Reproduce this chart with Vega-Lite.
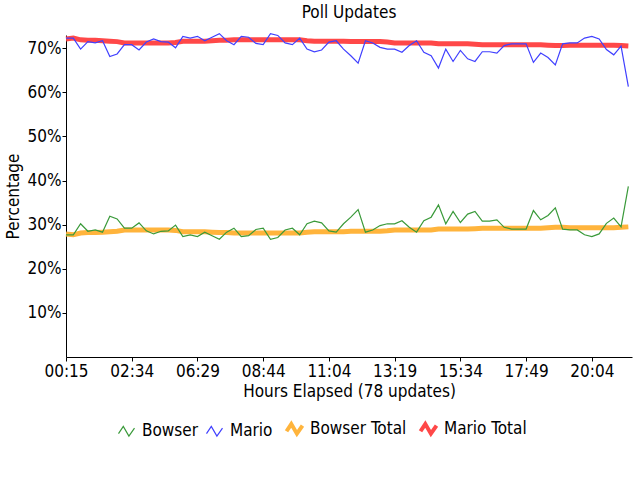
{
  "$schema": "https://vega.github.io/schema/vega-lite/v6.json",
  "width": 566,
  "height": 322,
  "autosize": {"type": "none"},
  "padding": {"left": 66, "top": 35, "right": 8, "bottom": 123},
  "background": "white",
  "title": {"text": "Poll Updates", "font": "DejaVu Sans Condensed, Liberation Sans, sans-serif", "fontSize": 17, "fontWeight": "normal", "color": "black", "offset": 6, "anchor": "middle"},
  "config": {
    "view": {"stroke": null},
    "axis": {"labelFont": "DejaVu Sans Condensed, Liberation Sans, sans-serif", "titleFont": "DejaVu Sans Condensed, Liberation Sans, sans-serif", "labelFontSize": 17, "titleFontSize": 17, "titleFontWeight": "normal", "domainColor": "black", "tickColor": "black", "labelColor": "black", "titleColor": "black", "grid": false},
    "legend": {"labelFont": "DejaVu Sans Condensed, Liberation Sans, sans-serif", "labelFontSize": 17, "labelColor": "black"}
  },
  "data": {"values": [
    {"update":0,"series":"Mario","share":0.723},{"update":1,"series":"Mario","share":0.723},{"update":2,"series":"Mario","share":0.698},{"update":3,"series":"Mario","share":0.715},{"update":4,"series":"Mario","share":0.712},{"update":5,"series":"Mario","share":0.717},{"update":6,"series":"Mario","share":0.681},{"update":7,"series":"Mario","share":0.687},{"update":8,"series":"Mario","share":0.708},{"update":9,"series":"Mario","share":0.708},
    {"update":10,"series":"Mario","share":0.696},{"update":11,"series":"Mario","share":0.714},{"update":12,"series":"Mario","share":0.721},{"update":13,"series":"Mario","share":0.715},{"update":14,"series":"Mario","share":0.714},{"update":15,"series":"Mario","share":0.701},{"update":16,"series":"Mario","share":0.727},{"update":17,"series":"Mario","share":0.723},{"update":18,"series":"Mario","share":0.727},{"update":19,"series":"Mario","share":0.717},
    {"update":20,"series":"Mario","share":0.725},{"update":21,"series":"Mario","share":0.733},{"update":22,"series":"Mario","share":0.717},{"update":23,"series":"Mario","share":0.708},{"update":24,"series":"Mario","share":0.727},{"update":25,"series":"Mario","share":0.725},{"update":26,"series":"Mario","share":0.711},{"update":27,"series":"Mario","share":0.708},{"update":28,"series":"Mario","share":0.733},{"update":29,"series":"Mario","share":0.729},
    {"update":30,"series":"Mario","share":0.712},{"update":31,"series":"Mario","share":0.708},{"update":32,"series":"Mario","share":0.723},{"update":33,"series":"Mario","share":0.698},{"update":34,"series":"Mario","share":0.692},{"update":35,"series":"Mario","share":0.696},{"update":36,"series":"Mario","share":0.714},{"update":37,"series":"Mario","share":0.717},{"update":38,"series":"Mario","share":0.698},{"update":39,"series":"Mario","share":0.683},
    {"update":40,"series":"Mario","share":0.666},{"update":41,"series":"Mario","share":0.717},{"update":42,"series":"Mario","share":0.712},{"update":43,"series":"Mario","share":0.702},{"update":44,"series":"Mario","share":0.698},{"update":45,"series":"Mario","share":0.698},{"update":46,"series":"Mario","share":0.691},{"update":47,"series":"Mario","share":0.706},{"update":48,"series":"Mario","share":0.717},{"update":49,"series":"Mario","share":0.691},
    {"update":50,"series":"Mario","share":0.683},{"update":51,"series":"Mario","share":0.655},{"update":52,"series":"Mario","share":0.698},{"update":53,"series":"Mario","share":0.670},{"update":54,"series":"Mario","share":0.695},{"update":55,"series":"Mario","share":0.676},{"update":56,"series":"Mario","share":0.670},{"update":57,"series":"Mario","share":0.692},{"update":58,"series":"Mario","share":0.692},{"update":59,"series":"Mario","share":0.689},
    {"update":60,"series":"Mario","share":0.706},{"update":61,"series":"Mario","share":0.710},{"update":62,"series":"Mario","share":0.710},{"update":63,"series":"Mario","share":0.710},{"update":64,"series":"Mario","share":0.668},{"update":65,"series":"Mario","share":0.689},{"update":66,"series":"Mario","share":0.679},{"update":67,"series":"Mario","share":0.662},{"update":68,"series":"Mario","share":0.710},{"update":69,"series":"Mario","share":0.712},
    {"update":70,"series":"Mario","share":0.712},{"update":71,"series":"Mario","share":0.723},{"update":72,"series":"Mario","share":0.727},{"update":73,"series":"Mario","share":0.721},{"update":74,"series":"Mario","share":0.697},{"update":75,"series":"Mario","share":0.685},{"update":76,"series":"Mario","share":0.705},{"update":77,"series":"Mario","share":0.613},
    {"update":0,"series":"Bowser","share":0.277},{"update":1,"series":"Bowser","share":0.277},{"update":2,"series":"Bowser","share":0.302},{"update":3,"series":"Bowser","share":0.285},{"update":4,"series":"Bowser","share":0.288},{"update":5,"series":"Bowser","share":0.283},{"update":6,"series":"Bowser","share":0.319},{"update":7,"series":"Bowser","share":0.313},{"update":8,"series":"Bowser","share":0.292},{"update":9,"series":"Bowser","share":0.292},
    {"update":10,"series":"Bowser","share":0.304},{"update":11,"series":"Bowser","share":0.286},{"update":12,"series":"Bowser","share":0.279},{"update":13,"series":"Bowser","share":0.285},{"update":14,"series":"Bowser","share":0.286},{"update":15,"series":"Bowser","share":0.299},{"update":16,"series":"Bowser","share":0.273},{"update":17,"series":"Bowser","share":0.277},{"update":18,"series":"Bowser","share":0.273},{"update":19,"series":"Bowser","share":0.283},
    {"update":20,"series":"Bowser","share":0.275},{"update":21,"series":"Bowser","share":0.267},{"update":22,"series":"Bowser","share":0.283},{"update":23,"series":"Bowser","share":0.292},{"update":24,"series":"Bowser","share":0.273},{"update":25,"series":"Bowser","share":0.275},{"update":26,"series":"Bowser","share":0.289},{"update":27,"series":"Bowser","share":0.292},{"update":28,"series":"Bowser","share":0.267},{"update":29,"series":"Bowser","share":0.271},
    {"update":30,"series":"Bowser","share":0.288},{"update":31,"series":"Bowser","share":0.292},{"update":32,"series":"Bowser","share":0.277},{"update":33,"series":"Bowser","share":0.302},{"update":34,"series":"Bowser","share":0.308},{"update":35,"series":"Bowser","share":0.304},{"update":36,"series":"Bowser","share":0.286},{"update":37,"series":"Bowser","share":0.283},{"update":38,"series":"Bowser","share":0.302},{"update":39,"series":"Bowser","share":0.317},
    {"update":40,"series":"Bowser","share":0.334},{"update":41,"series":"Bowser","share":0.283},{"update":42,"series":"Bowser","share":0.288},{"update":43,"series":"Bowser","share":0.298},{"update":44,"series":"Bowser","share":0.302},{"update":45,"series":"Bowser","share":0.302},{"update":46,"series":"Bowser","share":0.309},{"update":47,"series":"Bowser","share":0.294},{"update":48,"series":"Bowser","share":0.283},{"update":49,"series":"Bowser","share":0.309},
    {"update":50,"series":"Bowser","share":0.317},{"update":51,"series":"Bowser","share":0.345},{"update":52,"series":"Bowser","share":0.302},{"update":53,"series":"Bowser","share":0.330},{"update":54,"series":"Bowser","share":0.305},{"update":55,"series":"Bowser","share":0.324},{"update":56,"series":"Bowser","share":0.330},{"update":57,"series":"Bowser","share":0.308},{"update":58,"series":"Bowser","share":0.308},{"update":59,"series":"Bowser","share":0.311},
    {"update":60,"series":"Bowser","share":0.294},{"update":61,"series":"Bowser","share":0.290},{"update":62,"series":"Bowser","share":0.290},{"update":63,"series":"Bowser","share":0.290},{"update":64,"series":"Bowser","share":0.332},{"update":65,"series":"Bowser","share":0.311},{"update":66,"series":"Bowser","share":0.321},{"update":67,"series":"Bowser","share":0.338},{"update":68,"series":"Bowser","share":0.290},{"update":69,"series":"Bowser","share":0.288},
    {"update":70,"series":"Bowser","share":0.288},{"update":71,"series":"Bowser","share":0.277},{"update":72,"series":"Bowser","share":0.273},{"update":73,"series":"Bowser","share":0.279},{"update":74,"series":"Bowser","share":0.303},{"update":75,"series":"Bowser","share":0.315},{"update":76,"series":"Bowser","share":0.295},{"update":77,"series":"Bowser","share":0.387},
    {"update":0,"series":"Mario Total","share":0.721},{"update":1,"series":"Mario Total","share":0.723},{"update":2,"series":"Mario Total","share":0.719},{"update":3,"series":"Mario Total","share":0.718},{"update":4,"series":"Mario Total","share":0.718},{"update":5,"series":"Mario Total","share":0.717},{"update":6,"series":"Mario Total","share":0.716},{"update":7,"series":"Mario Total","share":0.715},{"update":8,"series":"Mario Total","share":0.712},{"update":9,"series":"Mario Total","share":0.712},
    {"update":10,"series":"Mario Total","share":0.712},{"update":11,"series":"Mario Total","share":0.712},{"update":12,"series":"Mario Total","share":0.712},{"update":13,"series":"Mario Total","share":0.712},{"update":14,"series":"Mario Total","share":0.712},{"update":15,"series":"Mario Total","share":0.713},{"update":16,"series":"Mario Total","share":0.716},{"update":17,"series":"Mario Total","share":0.716},{"update":18,"series":"Mario Total","share":0.716},{"update":19,"series":"Mario Total","share":0.716},
    {"update":20,"series":"Mario Total","share":0.717},{"update":21,"series":"Mario Total","share":0.718},{"update":22,"series":"Mario Total","share":0.718},{"update":23,"series":"Mario Total","share":0.719},{"update":24,"series":"Mario Total","share":0.719},{"update":25,"series":"Mario Total","share":0.719},{"update":26,"series":"Mario Total","share":0.719},{"update":27,"series":"Mario Total","share":0.719},{"update":28,"series":"Mario Total","share":0.719},{"update":29,"series":"Mario Total","share":0.719},
    {"update":30,"series":"Mario Total","share":0.719},{"update":31,"series":"Mario Total","share":0.719},{"update":32,"series":"Mario Total","share":0.719},{"update":33,"series":"Mario Total","share":0.717},{"update":34,"series":"Mario Total","share":0.716},{"update":35,"series":"Mario Total","share":0.716},{"update":36,"series":"Mario Total","share":0.716},{"update":37,"series":"Mario Total","share":0.716},{"update":38,"series":"Mario Total","share":0.716},{"update":39,"series":"Mario Total","share":0.715},
    {"update":40,"series":"Mario Total","share":0.715},{"update":41,"series":"Mario Total","share":0.715},{"update":42,"series":"Mario Total","share":0.715},{"update":43,"series":"Mario Total","share":0.715},{"update":44,"series":"Mario Total","share":0.714},{"update":45,"series":"Mario Total","share":0.712},{"update":46,"series":"Mario Total","share":0.712},{"update":47,"series":"Mario Total","share":0.712},{"update":48,"series":"Mario Total","share":0.712},{"update":49,"series":"Mario Total","share":0.712},
    {"update":50,"series":"Mario Total","share":0.712},{"update":51,"series":"Mario Total","share":0.710},{"update":52,"series":"Mario Total","share":0.710},{"update":53,"series":"Mario Total","share":0.710},{"update":54,"series":"Mario Total","share":0.710},{"update":55,"series":"Mario Total","share":0.710},{"update":56,"series":"Mario Total","share":0.709},{"update":57,"series":"Mario Total","share":0.708},{"update":58,"series":"Mario Total","share":0.708},{"update":59,"series":"Mario Total","share":0.708},
    {"update":60,"series":"Mario Total","share":0.708},{"update":61,"series":"Mario Total","share":0.708},{"update":62,"series":"Mario Total","share":0.708},{"update":63,"series":"Mario Total","share":0.708},{"update":64,"series":"Mario Total","share":0.708},{"update":65,"series":"Mario Total","share":0.708},{"update":66,"series":"Mario Total","share":0.707},{"update":67,"series":"Mario Total","share":0.706},{"update":68,"series":"Mario Total","share":0.706},{"update":69,"series":"Mario Total","share":0.707},
    {"update":70,"series":"Mario Total","share":0.707},{"update":71,"series":"Mario Total","share":0.707},{"update":72,"series":"Mario Total","share":0.707},{"update":73,"series":"Mario Total","share":0.707},{"update":74,"series":"Mario Total","share":0.707},{"update":75,"series":"Mario Total","share":0.707},{"update":76,"series":"Mario Total","share":0.706},{"update":77,"series":"Mario Total","share":0.705},
    {"update":0,"series":"Bowser Total","share":0.279},{"update":1,"series":"Bowser Total","share":0.277},{"update":2,"series":"Bowser Total","share":0.281},{"update":3,"series":"Bowser Total","share":0.282},{"update":4,"series":"Bowser Total","share":0.282},{"update":5,"series":"Bowser Total","share":0.283},{"update":6,"series":"Bowser Total","share":0.284},{"update":7,"series":"Bowser Total","share":0.285},{"update":8,"series":"Bowser Total","share":0.288},{"update":9,"series":"Bowser Total","share":0.288},
    {"update":10,"series":"Bowser Total","share":0.288},{"update":11,"series":"Bowser Total","share":0.288},{"update":12,"series":"Bowser Total","share":0.288},{"update":13,"series":"Bowser Total","share":0.288},{"update":14,"series":"Bowser Total","share":0.288},{"update":15,"series":"Bowser Total","share":0.287},{"update":16,"series":"Bowser Total","share":0.284},{"update":17,"series":"Bowser Total","share":0.284},{"update":18,"series":"Bowser Total","share":0.284},{"update":19,"series":"Bowser Total","share":0.284},
    {"update":20,"series":"Bowser Total","share":0.283},{"update":21,"series":"Bowser Total","share":0.282},{"update":22,"series":"Bowser Total","share":0.282},{"update":23,"series":"Bowser Total","share":0.281},{"update":24,"series":"Bowser Total","share":0.281},{"update":25,"series":"Bowser Total","share":0.281},{"update":26,"series":"Bowser Total","share":0.281},{"update":27,"series":"Bowser Total","share":0.281},{"update":28,"series":"Bowser Total","share":0.281},{"update":29,"series":"Bowser Total","share":0.281},
    {"update":30,"series":"Bowser Total","share":0.281},{"update":31,"series":"Bowser Total","share":0.281},{"update":32,"series":"Bowser Total","share":0.281},{"update":33,"series":"Bowser Total","share":0.283},{"update":34,"series":"Bowser Total","share":0.284},{"update":35,"series":"Bowser Total","share":0.284},{"update":36,"series":"Bowser Total","share":0.284},{"update":37,"series":"Bowser Total","share":0.284},{"update":38,"series":"Bowser Total","share":0.284},{"update":39,"series":"Bowser Total","share":0.285},
    {"update":40,"series":"Bowser Total","share":0.285},{"update":41,"series":"Bowser Total","share":0.285},{"update":42,"series":"Bowser Total","share":0.285},{"update":43,"series":"Bowser Total","share":0.285},{"update":44,"series":"Bowser Total","share":0.286},{"update":45,"series":"Bowser Total","share":0.288},{"update":46,"series":"Bowser Total","share":0.288},{"update":47,"series":"Bowser Total","share":0.288},{"update":48,"series":"Bowser Total","share":0.288},{"update":49,"series":"Bowser Total","share":0.288},
    {"update":50,"series":"Bowser Total","share":0.288},{"update":51,"series":"Bowser Total","share":0.290},{"update":52,"series":"Bowser Total","share":0.290},{"update":53,"series":"Bowser Total","share":0.290},{"update":54,"series":"Bowser Total","share":0.290},{"update":55,"series":"Bowser Total","share":0.290},{"update":56,"series":"Bowser Total","share":0.291},{"update":57,"series":"Bowser Total","share":0.292},{"update":58,"series":"Bowser Total","share":0.292},{"update":59,"series":"Bowser Total","share":0.292},
    {"update":60,"series":"Bowser Total","share":0.292},{"update":61,"series":"Bowser Total","share":0.292},{"update":62,"series":"Bowser Total","share":0.292},{"update":63,"series":"Bowser Total","share":0.292},{"update":64,"series":"Bowser Total","share":0.292},{"update":65,"series":"Bowser Total","share":0.292},{"update":66,"series":"Bowser Total","share":0.293},{"update":67,"series":"Bowser Total","share":0.294},{"update":68,"series":"Bowser Total","share":0.294},{"update":69,"series":"Bowser Total","share":0.293},
    {"update":70,"series":"Bowser Total","share":0.293},{"update":71,"series":"Bowser Total","share":0.293},{"update":72,"series":"Bowser Total","share":0.293},{"update":73,"series":"Bowser Total","share":0.293},{"update":74,"series":"Bowser Total","share":0.293},{"update":75,"series":"Bowser Total","share":0.293},{"update":76,"series":"Bowser Total","share":0.294},{"update":77,"series":"Bowser Total","share":0.295}
  ]},
  "encoding": {
    "x": {"field": "update", "type": "quantitative", "scale": {"domain": [0, 77.5], "nice": false, "zero": false},
      "axis": {"values": [0, 9, 18, 27, 36, 45, 54, 63, 72], "labelExpr": "['00:15','02:34','06:29','08:44','11:04','13:19','15:34','17:49','20:04'][round(datum.value/9)]", "title": "Hours Elapsed (78 updates)", "tickSize": 4, "labelPadding": 2, "titlePadding": 4, "labelFlush": false}},
    "y": {"field": "share", "type": "quantitative", "scale": {"domain": [0, 0.73], "nice": false},
      "axis": {"values": [0.1, 0.2, 0.3, 0.4, 0.5, 0.6, 0.7], "format": ".0%", "title": "Percentage", "tickSize": 4, "labelPadding": 1, "titlePadding": 5}},
    "color": {"field": "series", "type": "nominal",
      "scale": {"domain": ["Bowser", "Mario", "Bowser Total", "Mario Total"], "range": ["#3a9a3a", "#4040ff", "#ffb43c", "#ff4848"]},
      "legend": {"title": null, "orient": "none", "legendX": 52, "legendY": 385, "direction": "horizontal", "symbolType": "M-1,0.3L-0.4,-0.6L0.3,0.6L1,-0.4", "symbolSize": 256, "columnPadding": 5, "labelOffset": 7,
        "encode": {"symbols": {"update": {"strokeWidth": {"signal": "indexof(['Bowser Total','Mario Total'], datum.label) >= 0 ? 4 : 1.2"}}}}}}
  },
  "layer": [
    {"transform": [{"filter": {"field": "series", "oneOf": ["Bowser Total", "Mario Total"]}}], "mark": {"type": "line", "strokeWidth": 5}},
    {"transform": [{"filter": {"field": "series", "oneOf": ["Bowser", "Mario"]}}], "mark": {"type": "line", "strokeWidth": 1.2}}
  ]
}
